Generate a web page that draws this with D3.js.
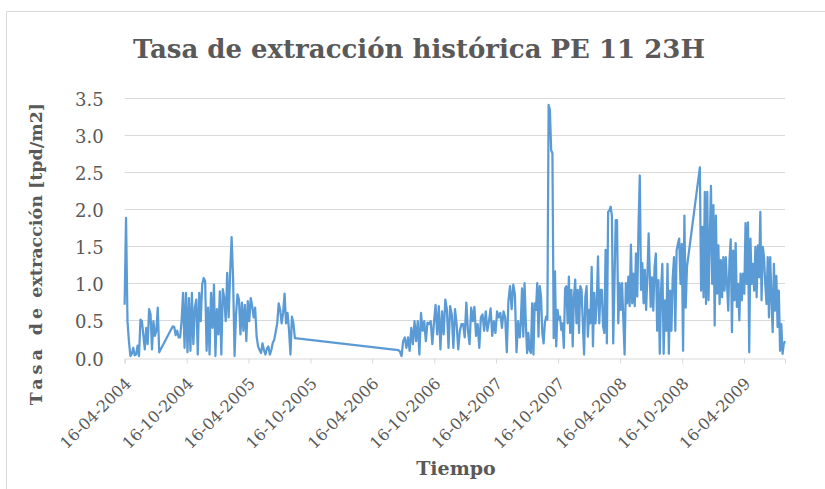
<!DOCTYPE html>
<html>
<head>
<meta charset="utf-8">
<script src="https://cdn.jsdelivr.net/npm/d3@7"></script>
<style>
  body { margin: 0; background: #fff; }
  svg { display: block; }
</style>
</head>
<body>
<svg id="chart" width="825" height="489"></svg>
<script>
// Textos del gráfico
const titulo = "Tasa de extracción histórica PE 11 23H";
const tituloEjeY = ["Tasa de", " extracción [tpd/m2]"];
const tituloEjeX = "Tiempo";

// Marcas de los ejes
const ticksY = [0, 0.5, 1.0, 1.5, 2.0, 2.5, 3.0, 3.5];
const ticksX = ["2004-04-16", "2004-10-16", "2005-04-16", "2005-10-16", "2006-04-16",
                "2006-10-16", "2007-04-16", "2007-10-16", "2008-04-16", "2008-10-16", "2009-04-16"];

// Tramos de medición [inicio, fin]; cada tramo se muestrea a intervalos regulares
const periodoA  = ["2004-04-16", "2004-07-27"];
const periodoB  = ["2004-09-05", "2005-08-31"];
const periodoC1 = ["2006-07-02", "2007-06-25"];
const periodoC2 = ["2007-06-28", "2008-07-09"];
const periodoC3 = ["2008-07-15", "2008-10-30"];
const periodoD  = ["2008-12-07", "2009-08-15"];

// Tasa de extracción [tpd/m2] en cada tramo
const tramoA = [0.71, 1.88, 0.49, 0.22, 0.02, 0.05, 0.13, 0.03, 0.04, 0.16, 0.02, 0.51, 0.49,
                0.30, 0.11, 0.40, 0.18, 0.65, 0.58, 0.11, 0.49, 0.29, 0.36, 0.67, 0.07];
const tramoB = [0.42, 0.41, 0.30, 0.36, 0.27, 0.27, 0.49, 0.87, 0.13, 0.87, 0.07, 0.80, 0.09,
                0.87, 0.18, 0.67, 0.78, 0.04, 0.87, 0.49, 0.98, 1.07, 1.03, 0.09, 0.67, 0.04,
                0.87, 0.40, 0.98, 0.02, 0.65, 0.31, 0.89, 0.04, 0.92, 0.80, 0.49, 1.14, 0.54,
                1.14, 1.62, 1.07, 0.02, 0.58, 0.85, 0.78, 0.31, 0.74, 0.36, 0.71, 0.22, 0.76,
                0.49, 0.80, 0.69, 0.54, 0.67, 0.28, 0.15, 0.10, 0.06, 0.19, 0.10, 0.04, 0.12,
                0.15, 0.04, 0.10, 0.20, 0.24, 0.35, 0.46, 0.73, 0.64, 0.46, 0.60, 0.86, 0.46,
                0.60, 0.37, 0.04, 0.55, 0.46, 0.26];
const tramoC1 = [0.10, 0.08, 0.02, 0.22, 0.27, 0.13, 0.27, 0.09, 0.40, 0.18, 0.49, 0.22, 0.49,
                 0.04, 0.60, 0.36, 0.49, 0.22, 0.47, 0.45, 0.49, 0.18, 0.47, 0.71, 0.31, 0.69,
                 0.11, 0.62, 0.31, 0.78, 0.65, 0.13, 0.69, 0.58, 0.13, 0.65, 0.45, 0.11, 0.36,
                 0.45, 0.45, 0.27, 0.74, 0.36, 0.18, 0.67, 0.49, 0.68, 0.29, 0.45, 0.13, 0.54,
                 0.58, 0.36, 0.62, 0.36, 0.49, 0.66, 0.29, 0.49, 0.33, 0.62, 0.54, 0.60, 0.40,
                 0.62, 0.54, 0.07, 0.76, 0.96, 0.65, 0.98, 0.85, 0.07, 0.49, 0.27];
const tramoC2 = [0.46, 0.93, 0.28, 1.00, 0.46, 0.06, 0.33, 0.10, 0.06, 0.73, 0.04, 0.73, 0.64,
                 1.00, 0.28, 0.96, 0.82, 0.33, 0.19, 0.46, 0.55, 0.51, 3.40, 3.33, 2.79, 2.75,
                 0.26, 1.16, 0.15, 0.64, 0.51, 0.55, 0.37, 0.46, 0.13, 0.93, 0.96, 0.46, 1.09,
                 0.33, 0.91, 0.15, 0.82, 1.05, 0.46, 0.91, 0.33, 0.96, 0.91, 0.46, 0.04, 0.82,
                 0.96, 0.28, 0.64, 0.46, 1.22, 0.15, 0.87, 0.46, 0.73, 1.36, 0.46, 0.91, 0.91,
                 0.42, 0.33, 1.45, 0.19, 1.96, 1.98, 2.03, 1.90, 0.19, 1.00, 1.85, 1.85, 0.46,
                 1.00, 0.64, 1.00, 0.51, 0.04, 1.00, 0.73, 1.09, 0.69, 1.52, 0.73, 1.13, 0.69,
                 1.40, 0.82, 1.76, 2.45, 0.91, 1.27, 0.73, 1.18, 0.64, 1.09, 1.67];
const tramoC3 = [0.68, 1.08, 0.63, 1.22, 1.40, 0.36, 1.04, 0.05, 0.90, 1.26, 0.05, 0.77, 0.36,
                 1.26, 0.05, 0.90, 0.36, 1.08, 1.35, 0.36, 1.44, 1.53, 1.60, 0.99, 1.53, 0.09,
                 1.91, 0.67, 1.22];
const tramoD = [2.56, 0.90, 1.76, 0.81, 2.23, 0.72, 2.23, 0.77, 1.58, 2.31, 0.99, 2.05, 0.43,
                1.91, 0.86, 1.51, 0.72, 1.31, 0.81, 1.35, 0.90, 1.35, 0.99, 0.63, 1.31, 1.59,
                0.34, 1.44, 0.77, 1.54, 0.68, 0.99, 0.50, 1.13, 0.77, 1.13, 0.86, 1.81, 0.99,
                1.82, 0.07, 1.60, 0.99, 1.26, 0.90, 1.49, 0.81, 1.51, 1.08, 1.96, 0.77, 1.49,
                1.35, 0.99, 0.72, 1.35, 0.54, 1.35, 0.81, 0.34, 1.26, 0.63, 1.10, 0.41, 0.90,
                0.09, 0.45, 0.05, 0.18, 0.22];

const parse = d3.timeParse("%Y-%m-%d");

// Reparte las lecturas de un tramo entre su fecha inicial y final
function tramo(periodo, valores) {
  const t0 = parse(periodo[0]), t1 = parse(periodo[1]);
  const n = valores.length;
  return valores.map((v, i) => ({ fecha: new Date(+t0 + (t1 - t0) * i / (n - 1)), valor: v }));
}

const serie = [].concat(
  tramo(periodoA, tramoA),
  tramo(periodoB, tramoB),
  tramo(periodoC1, tramoC1),
  tramo(periodoC2, tramoC2),
  tramo(periodoC3, tramoC3),
  tramo(periodoD, tramoD)
);

const W = 825, H = 489;
const plot = { left: 124.6, right: 785, top: 97.5, bottom: 357.5 };
const gris = "#595959", rejilla = "#d9d9d9", azul = "#5B9BD5";
const fuente = "'DejaVu Serif', serif";

const svg = d3.select("#chart");

// Fondo y marco del área del gráfico
svg.append("rect").attr("width", W).attr("height", H).attr("fill", "#fff");
svg.append("path")
  .attr("d", `M6.5,${H} V11.5 H${W}`)
  .attr("fill", "none").attr("stroke", rejilla).attr("stroke-width", 1);

const x = d3.scaleTime()
  .domain(d3.extent(serie, d => d.fecha))
  .range([plot.left, plot.right]);
const y = d3.scaleLinear()
  .domain([0, 3.5])
  .range([plot.bottom, plot.top]);

// Líneas de rejilla horizontales
svg.append("g")
  .selectAll("line")
  .data(ticksY.filter(t => t > 0))
  .join("line")
  .attr("x1", plot.left).attr("x2", plot.right)
  .attr("y1", d => Math.round(y(d)) + 0.5).attr("y2", d => Math.round(y(d)) + 0.5)
  .attr("stroke", rejilla).attr("stroke-width", 1);

// Eje Y
const ejeY = svg.append("g")
  .attr("transform", `translate(${plot.left},0)`)
  .call(d3.axisLeft(y).tickValues(ticksY).tickFormat(d3.format(".1f")).tickSize(0).tickPadding(21));
ejeY.select(".domain").remove();
ejeY.selectAll("text")
  .attr("fill", gris).attr("font-family", fuente).attr("font-size", 18).attr("dy", "0.42em");

// Eje X con fechas giradas
const ejeX = svg.append("g")
  .attr("transform", `translate(0,${Math.round(y(0)) + 0.5})`)
  .call(d3.axisBottom(x).tickValues(ticksX.map(parse)).tickFormat(d3.timeFormat("%d-%m-%Y")).tickSize(5));
ejeX.select(".domain").attr("stroke", rejilla);
ejeX.selectAll(".tick line").attr("stroke", rejilla);
ejeX.selectAll("text")
  .attr("fill", gris).attr("font-family", fuente).attr("font-size", 16)
  .attr("text-anchor", "end")
  .attr("dy", null).attr("y", 0)
  .attr("transform", "translate(7,26) rotate(-45)");

// Serie
const linea = d3.line().x(d => x(d.fecha)).y(d => y(d.valor));
svg.append("path")
  .datum(serie)
  .attr("d", linea)
  .attr("fill", "none")
  .attr("stroke", azul)
  .attr("stroke-width", 2.25)
  .attr("stroke-linejoin", "round");

// Título
svg.append("text")
  .attr("x", 419).attr("y", 58)
  .attr("text-anchor", "middle")
  .attr("font-family", fuente).attr("font-weight", "bold").attr("font-size", 26)
  .attr("fill", gris)
  .text(titulo);

// Título del eje Y
const ty = svg.append("text")
  .attr("transform", "translate(42,254) rotate(-90)")
  .attr("text-anchor", "middle")
  .attr("font-family", fuente).attr("font-weight", "bold").attr("font-size", 17.5)
  .attr("fill", gris);
ty.append("tspan").attr("letter-spacing", 4).text(tituloEjeY[0]);
ty.append("tspan").text(tituloEjeY[1]);

// Título del eje X
svg.append("text")
  .attr("x", 456).attr("y", 475)
  .attr("text-anchor", "middle")
  .attr("font-family", fuente).attr("font-weight", "bold").attr("font-size", 19)
  .attr("fill", gris)
  .text(tituloEjeX);
</script>
</body>
</html>
